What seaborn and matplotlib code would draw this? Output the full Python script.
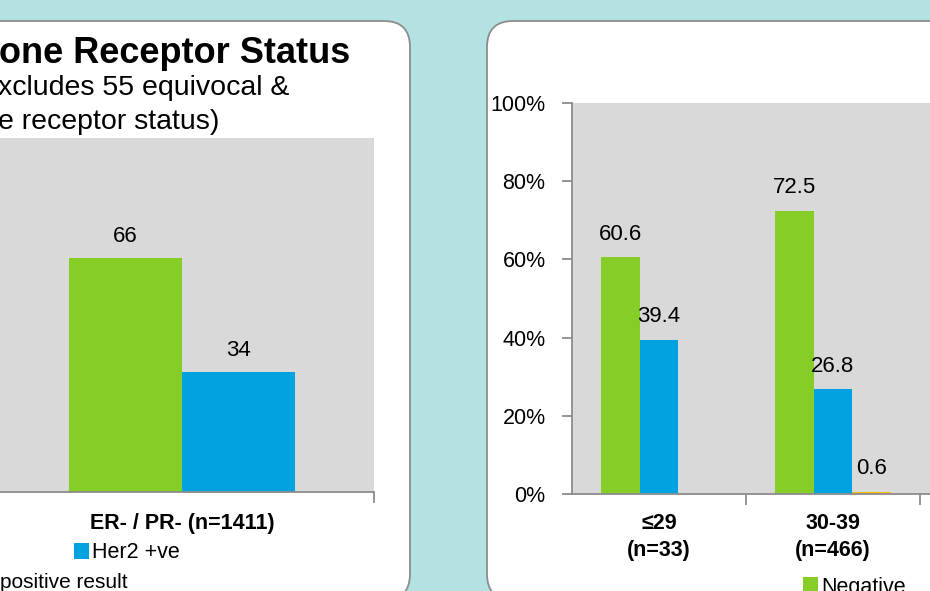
import matplotlib
matplotlib.use("Agg")
import matplotlib.pyplot as plt
from matplotlib.patches import FancyBboxPatch, Patch
import seaborn as sns
import pandas as pd

# ---------------- data ----------------
left_groups = ["ER- / PR- (n=1411)"]
left_status = ["Her2 -ve", "Her2 +ve"]
left_values = [66, 34]

right_groups = ["≤29\n(n=33)", "30-39\n(n=466)"]
right_status = ["Negative", "Positive", "Equivocal"]
right_negative = [60.6, 72.5]
right_positive = [39.4, 26.8]
right_equivocal = [0.0, 0.6]

ytick_values = [0, 20, 40, 60, 80, 100]
ytick_labels = ["0%", "20%", "40%", "60%", "80%", "100%"]

title_text = "one Receptor Status"
subtitle_lines = ["xcludes 55 equivocal &", "e receptor status)"]
footnote_text = "positive result"

# ---------------- style ----------------
sns.set_theme(style="white")
plt.rcParams["font.family"] = ["Liberation Sans", "DejaVu Sans"]
plt.rcParams["text.color"] = "black"
plt.rcParams["xtick.color"] = "black"
plt.rcParams["ytick.color"] = "black"
plt.rcParams["axes.labelcolor"] = "black"

GREEN = "#86CD27"
BLUE = "#00A3E0"
YELLOW = "#FFC000"
GREYBG = "#D9D9D9"
SPINE = "#8C8C8C"
TEAL = "#B4E1E1"

W, H = 930, 591
fig = plt.figure(figsize=(W / 100, H / 100), dpi=100)
fig.patch.set_facecolor(TEAL)


def fx(px):
    return px / W


def fy(py):
    return 1 - py / H


def add_panel(x0, y0, x1, y1):
    p = FancyBboxPatch((x0 / 100, (H - y1) / 100), (x1 - x0) / 100, (y1 - y0) / 100,
                       boxstyle="round,pad=0,rounding_size=0.26",
                       transform=fig.dpi_scale_trans, facecolor="white",
                       edgecolor=SPINE, linewidth=1.3, zorder=-1)
    fig.patches.append(p)


add_panel(-40, 21, 410, 600)
add_panel(487, 21, 980, 600)

# ---------------- left chart ----------------
axL = fig.add_axes([fx(-10), fy(492), fx(384), (492 - 138) / H])
dfL = pd.DataFrame({"group": left_groups * len(left_status),
                    "status": left_status,
                    "value": left_values})
sns.barplot(data=dfL, x="group", y="value", hue="status", hue_order=left_status,
            palette={left_status[0]: GREEN, left_status[1]: BLUE},
            width=0.588, saturation=1, ax=axL, legend=False, errorbar=None,
            linewidth=0, edgecolor="none")
axL.set_facecolor(GREYBG)
axL.set_xlim(-0.5, 0.5)
axL.set_ylim(0, 100)
axL.set_yticks([])
axL.set_xlabel("")
axL.set_ylabel("")
for s in ["top", "right", "left"]:
    axL.spines[s].set_visible(False)
axL.spines["bottom"].set_color(SPINE)
axL.spines["bottom"].set_linewidth(1.3)
axL.set_xticks([0])
axL.set_xticklabels(left_groups, fontsize=15.5, fontweight="bold")
axL.set_xticks([0.5], minor=True)
axL.tick_params(axis="x", which="major", length=0, pad=15, colors="black")
axL.tick_params(axis="x", which="minor", length=8, width=1.3, color=SPINE, direction="out", bottom=True)
for c in axL.containers:
    labs = [f"{v:g}" if v > 0 else "" for v in c.datavalues]
    axL.bar_label(c, labels=labs, padding=8, fontsize=16, color="black")

# ---------------- right chart ----------------
axR = fig.add_axes([fx(572), fy(494), fx(522), (494 - 103) / H])
dfR = pd.DataFrame({
    "group": right_groups * 3,
    "status": [right_status[0]] * 2 + [right_status[1]] * 2 + [right_status[2]] * 2,
    "value": right_negative + right_positive + right_equivocal,
})
sns.barplot(data=dfR, x="group", y="value", hue="status", hue_order=right_status,
            palette={right_status[0]: GREEN, right_status[1]: BLUE, right_status[2]: YELLOW},
            width=0.665, saturation=1, ax=axR, legend=False, errorbar=None,
            linewidth=0, edgecolor="none")
axR.set_facecolor(GREYBG)
axR.set_xlim(-0.5, 2.5)
axR.set_ylim(0, 100)
axR.set_xlabel("")
axR.set_ylabel("")
for s in ["top", "right"]:
    axR.spines[s].set_visible(False)
for s in ["left", "bottom"]:
    axR.spines[s].set_color(SPINE)
    axR.spines[s].set_linewidth(1.3)
axR.set_yticks(ytick_values)
axR.set_yticklabels(ytick_labels, fontsize=15.5)
axR.tick_params(axis="y", length=7, width=1.3, color=SPINE, direction="out", left=True, pad=12,
                labelcolor="black")
axR.set_xticks([0, 1])
axR.set_xticklabels(right_groups, fontsize=15.5, fontweight="bold", linespacing=1.35)
axR.set_xticks([0.5, 1.5], minor=True)
axR.tick_params(axis="x", which="major", length=0, pad=14, colors="black")
axR.tick_params(axis="x", which="minor", length=8, width=1.3, color=SPINE, direction="out", bottom=True)
for c in axR.containers:
    labs = [f"{v:g}" if v > 0 else "" for v in c.datavalues]
    axR.bar_label(c, labels=labs, padding=9, fontsize=16, color="black")

# ---------------- texts ----------------
fig.text(fx(350), fy(63), title_text, fontsize=26, fontweight="bold", ha="right", va="baseline",
         color="black")
fig.text(fx(-2), fy(88), subtitle_lines[0], fontsize=20.5, ha="left", va="center", color="black")
fig.text(fx(-2), fy(122), subtitle_lines[1], fontsize=20.5, ha="left", va="center", color="black")
fig.text(fx(0), fy(582), footnote_text, fontsize=15, ha="left", va="center", color="black")

# legends
legL = fig.legend(handles=[Patch(facecolor=BLUE, edgecolor="none")], labels=[left_status[1]],
                  loc="center left", bbox_to_anchor=(fx(74), fy(553)), frameon=False,
                  fontsize=15.5, handlelength=0.7, handleheight=0.7, handletextpad=0.15,
                  borderpad=0, borderaxespad=0, labelcolor="black")
legR = fig.legend(handles=[Patch(facecolor=GREEN, edgecolor="none")], labels=[right_status[0]],
                  loc="center left", bbox_to_anchor=(fx(803), fy(587)), frameon=False,
                  fontsize=15.5, handlelength=0.7, handleheight=0.7, handletextpad=0.15,
                  borderpad=0, borderaxespad=0, labelcolor="black")

fig.savefig("out.png", dpi=100, facecolor=fig.get_facecolor())
